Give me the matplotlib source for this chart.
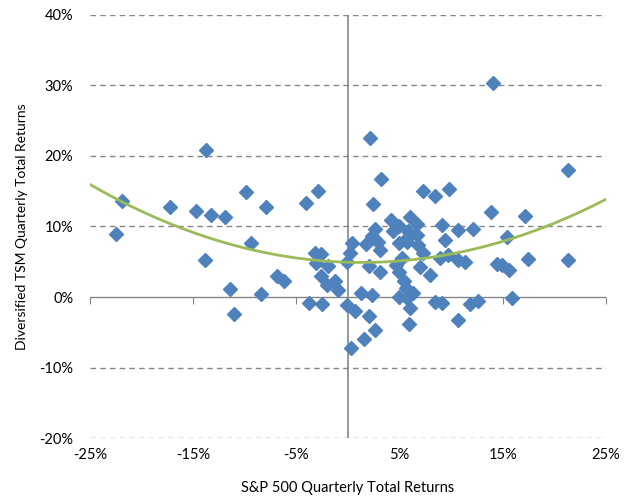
import numpy as np
import matplotlib.pyplot as plt

# S&P 500 quarterly total returns (%) vs diversified TSM quarterly total returns (%)
sp500 = [-22.5, -21.9, -17.2, -14.7, -13.8, -13.3, -13.9, -11.9, -11.4, -11.0,
         -9.9, -9.4, -8.4, -7.9, -6.9, -6.2, -4.1, -2.9, -3.8, -2.5,
         -3.2, -2.6, -3.1, -1.9, -2.6, -2.0, -1.3, -1.0, -0.1, -0.1,
         0.2, 0.4, 0.7, 0.3, 1.3, 1.7, 2.1, 3.2, 2.4, 2.6,
         2.3, 2.0, 2.0, 1.6, 2.6, 2.3, 3.1, 3.1, 2.9, 4.2,
         4.9, 4.4, 6.0, 6.7, 5.8, 6.7, 5.7, 4.9, 5.7, 6.8,
         7.3, 5.2, 4.7, 4.9, 5.4, 5.6, 6.3, 4.9, 5.7, 6.0,
         5.9, 7.0, 7.9, 8.4, 9.1, 7.3, 8.4, 9.8, 9.1, 9.4,
         10.7, 12.1, 8.9, 9.7, 10.7, 11.3, 10.7, 11.8, 12.6, 14.1,
         13.9, 17.2, 21.3, 15.4, 14.4, 14.9, 15.6, 17.4, 21.3, 15.9]
tsm = [8.9, 13.6, 12.8, 12.2, 20.8, 11.6, 5.3, 11.4, 1.2, -2.4,
       14.9, 7.6, 0.4, 12.8, 3.0, 2.3, 13.4, 15.1, -0.8, -1.0,
       6.3, 6.1, 4.8, 4.4, 3.0, 1.7, 2.2, 1.0, 5.0, -1.1,
       6.3, 7.6, -2.0, -7.2, 0.5, 7.5, 22.5, 16.7, 13.2, 9.7,
       8.7, 4.4, -2.7, -5.9, -4.7, 0.3, 6.6, 3.5, 7.8, 10.9,
       10.0, 9.3, 11.3, 10.4, 9.3, 8.8, 8.3, 7.6, 7.8, 7.4,
       6.2, 5.5, 4.5, 3.5, 2.2, 1.3, 0.5, 0.0, -0.2, -1.6,
       -3.8, 4.3, 3.1, -0.7, -0.8, 15.1, 14.3, 15.3, 10.2, 8.1,
       9.5, 9.6, 5.5, 6.0, 5.3, 5.0, -3.3, -1.0, -0.5, 30.3,
       12.0, 11.5, 18.0, 8.5, 4.7, 4.5, 3.8, 5.4, 5.2, -0.1]

xticks = [-25, -15, -5, 5, 15, 25]
yticks = [-20, -10, 0, 10, 20, 30, 40]

plt.rcParams['font.family'] = ['Lato', 'DejaVu Sans']

fig = plt.figure(figsize=(6.35, 4.99), dpi=100)
ax = fig.add_axes([0.1417, 0.1222, 0.8126, 0.8478])

grid_col = '#868686'
for s in ax.spines.values():
    s.set_visible(False)

ax.set_xlim(-25, 25)
ax.set_ylim(-20, 40)

# dashed horizontal gridlines
for v in yticks:
    if v != 0:
        ax.axhline(v, color=grid_col, lw=1, ls=(0, (4, 3)), zorder=1)
# axis lines
ax.axhline(0, color=grid_col, lw=1, zorder=1)
ax.axvline(0, color=grid_col, lw=1.2, zorder=1)

ax.set_yticks(yticks)
ax.set_yticklabels([f'{v}%' for v in yticks])
ax.set_xticks(xticks)
ax.set_xticklabels([f'{v}%' for v in xticks])
ax.tick_params(axis='y', length=0, pad=12, labelsize=10.5)
ax.tick_params(axis='x', length=0, pad=7, labelsize=10.5)

# tick marks along the zero line
sec = ax.secondary_xaxis(1 / 3)
sec.set_xticks(xticks)
sec.tick_params(axis='x', direction='out', length=5, color=grid_col, labelbottom=False, labeltop=False)
sec.spines['bottom'].set_visible(False)
sec.spines['top'].set_visible(False)

ax.plot(sp500, tsm, ls='none', marker='D', ms=7, color='#4F81BD',
        markeredgecolor='#4F81BD', zorder=3)

coef = np.polyfit(sp500, tsm, 2)
xs = np.linspace(-25, 25, 200)
ax.plot(xs, np.polyval(coef, xs), color='#9BBB59', lw=2, zorder=4)

ax.set_xlabel('S&P 500 Quarterly Total Returns', fontsize=10.5, labelpad=14)
ax.set_ylabel('Diversified TSM Quarterly Total Returns', fontsize=10, labelpad=8)

fig.savefig('out.png', dpi=100)
